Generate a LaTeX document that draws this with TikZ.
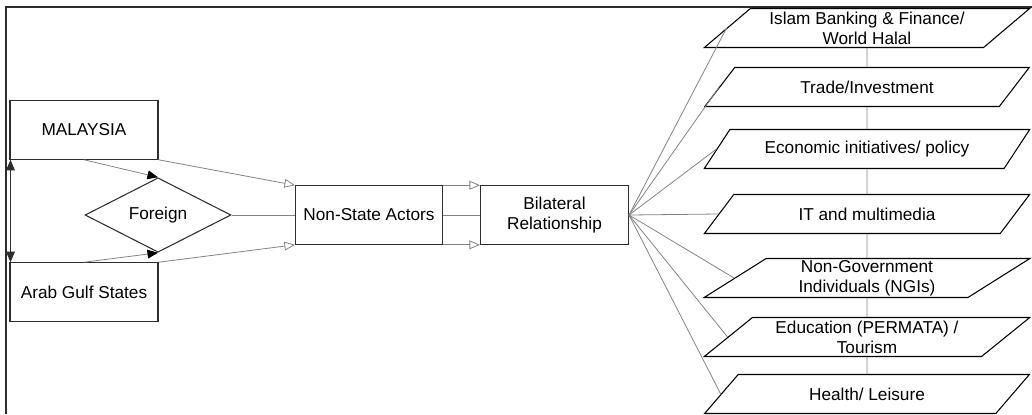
\documentclass[tikz,border=0pt]{standalone}
\usepackage{fontspec}
\setmainfont{Liberation Sans}
\definecolor{LineGray}{RGB}{130,130,130}
\definecolor{BoxDark}{RGB}{45,45,45}
\usetikzlibrary{arrows.meta, positioning, shapes.geometric}

\begin{document}
\begin{tikzpicture}[x=0.02cm, y=-0.02cm,
        font=\fontsize{9.8}{11.2}\selectfont,
        box/.style={rectangle, draw=BoxDark, line width=0.6pt, minimum width=2.96cm, minimum height=1.17cm, align=center, inner sep=1pt},
        decision/.style={diamond, draw=BoxDark, line width=0.6pt, minimum width=2.92cm, minimum height=1.14cm, inner sep=0pt},
        area/.style={trapezium, trapezium left angle=40, trapezium right angle=140, trapezium stretches=true, draw=black, line width=0.6pt, minimum width=6.52cm, minimum height=0.78cm, align=center, inner sep=0pt},
        link/.style={draw=LineGray, line width=0.45pt},
        openarrow/.style={link, -{Triangle[open, length=6pt, width=5pt]}},
        solidarrow/.style={link, -{Triangle[black, length=6pt, width=5pt]}}
    ]
        \useasboundingbox (0,0) rectangle (1032,414);
        \draw[BoxDark, line width=1.2pt] (6,414) -- (6,7) -- (1032,7);
        % left part
        \node[box] (malaysia) at (84,130) {MALAYSIA};
        \node[box] (gulf) at (84,292) {Arab Gulf States};
        \node[decision] (foreign) at (158,215) {Foreign};
        \node[box, minimum width=2.94cm] (actors) at (369,215) {Non-State Actors};
        \node[box, right=0.74cm of actors] (bilateral) {Bilateral\\Relationship};
        % areas of the relationship
        \node[area] (islam) at (867,28) {Islam Banking \& Finance/\\World Halal};
        \node[area] (trade) at (867,87) {Trade/Investment};
        \node[area] (econ) at (867,149) {Economic initiatives/ policy};
        \node[area] (it) at (867,214) {IT and multimedia};
        \node[area] (ngi) at (867,278) {Non-Government\\Individuals (NGIs)};
        \node[area] (edu) at (867,337) {Education (PERMATA) /\\Tourism};
        \node[area] (health) at (867,394) {Health/ Leisure};
        \draw[BoxDark, {Triangle[length=6pt, width=5pt]}-{Triangle[length=6pt, width=5pt]}] ([xshift=0.02cm]malaysia.south west) -- ([xshift=0.02cm]gulf.north west);
        \draw[solidarrow] (malaysia.south) -- (foreign.north);
        \draw[solidarrow] (gulf.north) -- (foreign.south);
        \draw[openarrow] (malaysia.south east) -- (actors.north west);
        \draw[openarrow] (gulf.north east) -- (actors.south west);
        \draw[link] (foreign.east) -- (actors.west);
        \draw[openarrow] (actors.north east) -- (bilateral.north west);
        \draw[link] (actors.east) -- (bilateral.west);
        \draw[openarrow] (actors.south east) -- (bilateral.south west);
        \foreach \t in {islam, trade, econ, it, ngi, edu, health}
            \draw[link] (bilateral.east) -- (\t.left side);
        \foreach \a/\b in {islam/trade, trade/econ, econ/it, it/ngi, ngi/edu, edu/health}
            \draw[link] (\a.south) -- (\b.north);
    \end{tikzpicture}
\end{document}
